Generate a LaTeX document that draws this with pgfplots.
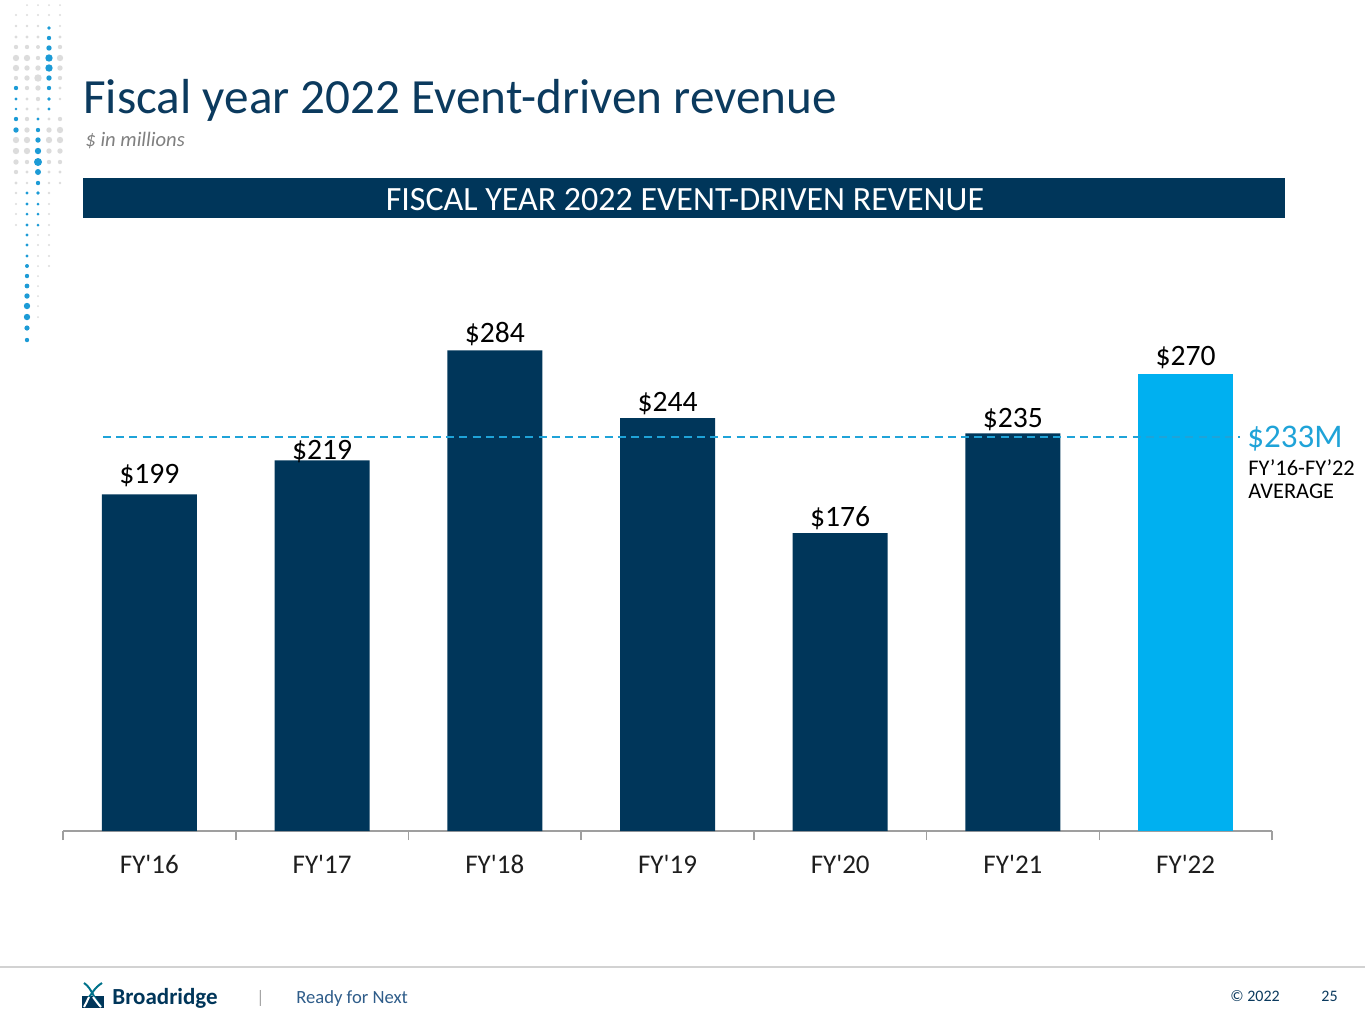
\documentclass[border=0pt]{standalone}
\usepackage{pgfplots}
\pgfplotsset{compat=1.18}
\usepackage{pgfplotstable}
\usepackage{fontspec}
\setmainfont{Carlito}
\definecolor{navy}{HTML}{00365A}
\definecolor{lblue}{HTML}{00B0F0}
\definecolor{dblue}{HTML}{1FA3D8}
\definecolor{titleblue}{HTML}{0B3A5E}
\definecolor{dotgray}{HTML}{DCDCDC}
\definecolor{dotblue}{HTML}{1C9BD6}

\pgfplotstableread{
x y dy
0 199 5.5
1 219 0.5
2 284 4
3 244 3.5
4 176 3.5
5 235 3
}\navybars
\pgfplotstableread{
x y dy
6 270 4.5
}\lastbar

\begin{document}
\begin{tikzpicture}
\begin{scope}[x=0.5pt,y=-0.5pt]
\useasboundingbox (0,0) rectangle (1365,1024);
\fill[white] (0,0) rectangle (1365,1024);
% decorative dots
\foreach \x/\y/\r in {16/15/1.2,16/26/1.4,16/37/1.7,16/47/2.2,16/58/3.2,16/68/3.2,16/78/2.2,
 16/140/3.2,16/151/3.2,16/162/2.7,16/172/2.2,16/183/1.7,16/193/1.4,16/204/1.2,16/214/1.2,16/225/1.2,
 27/5/1,27/15/1.2,27/26/1.4,27/37/1.7,27/47/2.2,27/58/3.2,27/68/2.7,27/78/2.7,27/88/2.2,27/99/1.7,27/109/1.7,27/119/2.2,27/130/2.7,27/140/3.2,27/151/3.2,27/162/2.2,27/172/1.7,27/183/1.4,
 38/5/1,38/15/1.2,38/26/1.4,38/37/1.7,38/47/2,38/58/2.2,38/68/2.7,38/78/3.7,38/88/2.7,38/99/2.2,38/109/1.7,
 38/235/1.2,38/245/1.2,38/256/1.2,38/266/1,38/276/1,38/286/1,38/296/1,38/306/1,38/317/1,
 49/5/1,49/15/1.2,49/119/1.7,49/130/2.7,49/140/3.2,49/151/2.7,49/162/2.2,49/172/1.7,49/183/1.4,49/193/1.4,49/204/1.2,49/214/1.2,49/225/1.2,49/235/1.2,49/245/1.2,49/256/1.2,49/266/1.2,
 60/5/1,60/15/1.2,60/26/1.2,60/37/1.7,60/47/2.2,60/58/3.2,60/68/2.7,60/78/2.2,60/88/1.7,60/99/1.4,60/119/2.2,60/130/3.2,60/140/3.2,60/151/2.7,60/162/2.2,60/172/1.7,60/183/1.4}
 {\fill[dotgray] (\x,\y) circle (\r);}
\foreach \x/\y/\r in {49/28/1.8,49/38/2.2,49/48/2.7,49/58/3.7,49/68/3.7,49/78/2.7,49/88/2.2,49/99/1.8,49/109/1.7,
 16/88/2.2,16/99/1.7,16/109/1.4,16/119/2.2,16/130/2.7,
 38/119/1.7,38/130/2.2,38/140/2.7,38/151/3.2,38/162/4,38/172/3,38/183/2.2,38/193/1.8,38/204/1.5,38/214/1.5,38/225/1.5,
 27/193/1.7,27/204/1.7,27/214/1.5,27/225/1.7,27/235/1.7,27/245/1.7,27/256/1.7,27/266/2,27/276/2.2,27/286/2.4,27/296/2.7,27/306/3.2,27/317/3.2,27/328/2.6,27/340/2.2}
 {\fill[dotblue] (\x,\y) circle (\r);}
% title
\node[anchor=base west, inner sep=0, text=titleblue, font=\fontsize{24.6}{27}\selectfont] at (83,113) {Fiscal year 2022 Event-driven revenue};
\node[anchor=base west, inner sep=0, text=gray, font=\fontsize{10.3}{12}\selectfont\itshape] at (85,146) {\$ in millions};
% banner
\fill[navy] (83,178) rectangle (1285,218);
\node[anchor=base, inner sep=0, text=white, font=\fontsize{17}{19}\selectfont] at (685,210) {FISCAL YEAR 2022 EVENT-DRIVEN REVENUE};
% average annotation
\node[anchor=base west, inner sep=0, text=dblue, font=\fontsize{16.5}{18}\selectfont] at (1247,447) {\$233M};
\node[anchor=base west, inner sep=0, text=black, font=\fontsize{11.2}{13}\selectfont] at (1248,475) {FY’16-FY’22};
\node[anchor=base west, inner sep=0, text=black, font=\fontsize{11.2}{13}\selectfont] at (1248,498) {AVERAGE};
% footer
\draw[gray!35, line width=1pt] (0,967) -- (1365,967);
\fill[navy] (82,996) rectangle (104,1008);
\draw[navy!70!cyan, line width=1pt] (84,983) .. controls (92,988) and (94,1000) .. (101,1006);
\draw[navy!70!cyan, line width=1pt] (102,983) .. controls (94,988) and (92,994) .. (89,997);
\draw[white, line width=1pt] (89,997) .. controls (87,1001) and (86,1004) .. (84,1007);
\draw[white, line width=1pt] (93,997) .. controls (96,1001) and (98,1004) .. (101,1007);
\node[anchor=base west, inner sep=0, text=navy, font=\fontsize{11.5}{13}\selectfont\bfseries] at (112,1004) {Broadridge};
\node[anchor=base west, inner sep=0, text=gray!70, font=\fontsize{9}{11}\selectfont] at (256,1003) {|};
\node[anchor=base west, inner sep=0, text={rgb,255:red,47;green,93;blue,138}, font=\fontsize{9.3}{11}\selectfont] at (296,1003) {Ready for Next};
\node[anchor=base west, inner sep=0, text=titleblue, font=\fontsize{8}{10}\selectfont] at (1230,1001) {© 2022};
\node[anchor=base west, inner sep=0, text=titleblue, font=\fontsize{8}{10}\selectfont] at (1321,1001) {25};
\end{scope}

\begin{axis}[
  at={(31.5pt,-415.5pt)}, anchor=south west,
  scale only axis, width=604.5pt, height=253.8pt,
  xmin=-0.5, xmax=6.5, ymin=0, ymax=300,
  axis y line=none, axis x line*=bottom,
  x axis line style={-, draw=gray!75, line width=0.8pt},
  xtick={0,...,6},
  xticklabels={FY\textquotesingle16,FY\textquotesingle17,FY\textquotesingle18,FY\textquotesingle19,FY\textquotesingle20,FY\textquotesingle21,FY\textquotesingle22},
  major tick length=0pt,
  extra x ticks={-0.5,0.5,1.5,2.5,3.5,4.5,5.5,6.5},
  extra x tick labels={},
  extra x tick style={major tick length=4.5pt, tick align=outside, tick style={draw=gray!75, line width=0.8pt}},
  xticklabel style={anchor=base, yshift=-21pt, text={rgb,255:red,30;green,30;blue,30}, font=\fontsize{13.5}{15}\selectfont},
  clip=false,
  barlab/.style={
    ybar, bar width=47.5pt, bar shift=0pt, draw=none,
    nodes near coords={\$\pgfmathprintnumber[assume math mode=true]{\pgfplotspointmeta}},
    visualization depends on={\thisrow{dy} \as \dy},
    nodes near coords style={anchor=base, yshift=\dy pt, inner sep=0pt, text=black, font=\fontsize{14.8}{17}\selectfont},
  },
]
\addplot[barlab, fill=navy] table[x=x, y=y] {\navybars};
\addplot[barlab, fill=lblue] table[x=x, y=y] {\lastbar};
\addplot[sharp plot, draw=dblue, line width=1pt, dash pattern=on 4pt off 2.6pt, mark=none] coordinates {(-0.268,233) (6.315,233)};
\end{axis}
\end{tikzpicture}
\end{document}
